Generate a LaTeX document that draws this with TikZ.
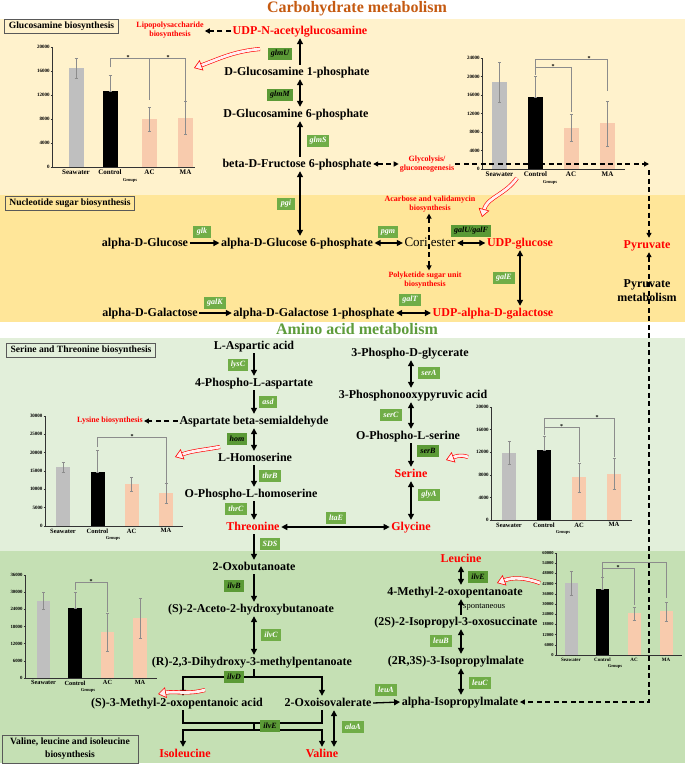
\documentclass[tikz,border=0pt]{standalone}
\usepackage{fontspec}
\setmainfont{Liberation Serif}
\usetikzlibrary{arrows.meta}
\definecolor{bgA}{HTML}{FFF2CC}
\definecolor{bgB}{HTML}{FFE699}
\definecolor{bgC}{HTML}{E2EFDA}
\definecolor{bgD}{HTML}{C5E0B4}
\definecolor{enzL}{HTML}{70AD47}
\definecolor{enzD}{HTML}{5B9A36}
\definecolor{titleO}{HTML}{C55A11}
\definecolor{titleG}{HTML}{5E9C3C}
\definecolor{barG}{HTML}{BFBFBF}
\definecolor{barP}{HTML}{F8CBAD}
\definecolor{redT}{HTML}{FF0000}
\definecolor{pinkF}{HTML}{FFF0F0}
\tikzset{
 met/.style={font=\bfseries\fontsize{12}{14}\selectfont, inner sep=1.5pt, text height=8.5pt, text depth=2.5pt},
 prod/.style={met, text=redT},
 side/.style={font=\bfseries\fontsize{8}{9.5}\selectfont, text=redT, align=center, inner sep=1pt},
 enzl/.style={fill=enzL, text=white, font=\bfseries\itshape\fontsize{8}{9}\selectfont, minimum width=18pt, minimum height=12.5pt, inner xsep=3pt, inner ysep=1pt},
 enzd/.style={enzl, fill=enzD, text=black},
 arr/.style={line width=1.3pt, -{Triangle[length=6pt,width=6pt]}},
 darr/.style={line width=1.3pt, {Triangle[length=6pt,width=6pt]}-{Triangle[length=6pt,width=6pt]}},
 ln/.style={line width=1.3pt},
 dsh/.style={line width=1.3pt, dash pattern=on 5pt off 3.5pt},
 dasharr/.style={dsh, -{Triangle[length=5pt,width=5pt]}},
 ddasharr/.style={dsh, {Triangle[length=5pt,width=5pt]}-{Triangle[length=5pt,width=5pt]}},
 hollow/.style={draw=redT, line width=0.6pt, double=pinkF, double distance=2.8pt, -{Triangle[fill=pinkF, length=8pt, width=11pt]}},
 boxlbl/.style={draw=black!65, line width=0.8pt, font=\bfseries\fontsize{9.6}{11}\selectfont, inner xsep=4pt, inner ysep=2pt, minimum height=14pt, align=center},
 errbar/.style={draw=black!45, line width=0.4pt},
 axisln/.style={draw=black!80, line width=0.5pt},
 brk/.style={draw=black!45, line width=0.5pt},
 catlbl/.style={anchor=north, inner sep=0pt, yshift=-2.5pt},
 ticklbl/.style={anchor=east, inner sep=0.8pt},
 grplbl/.style={anchor=north, inner sep=0pt, font=\bfseries\fontsize{4.5}{5}\selectfont},
 starl/.style={anchor=south, inner sep=0pt, font=\bfseries\fontsize{6}{6}\selectfont, yshift=-1.5pt},
}
% #1 data, #2 axis length, #3 vmax, #4 step, #5 cat font, #6 half width, #7 groups x, #8 tick font
\newcommand\chartbody[8]{%
  \foreach \bx/\bv/\bh/\bl/\bc/\bn in {#1}{%
    \fill[\bc] (\bx-#6,0) rectangle (\bx+#6,\bv);
    \draw[errbar] (\bx,\bl) -- (\bx,\bh) (\bx-1.5,\bh) -- (\bx+1.5,\bh) (\bx-1.5,\bl) -- (\bx+1.5,\bl);
    \node[catlbl, font=\bfseries\fontsize{#5}{#5}\selectfont] (cat-\bn) at (\bx,0) {\bn};
  }
  \draw[axisln] (0,#3) -- (0,0) -- (#2,0);
  \foreach \tk in {0,#4,...,#3}{%
    \draw[axisln] (-1.5,\tk) -- (0,\tk);
    \node[ticklbl, font=\bfseries\fontsize{#8}{#8}\selectfont] (tk\tk) at (-1.5,\tk) {\ifnum\tk=0 0\else\tk000\fi};
  }
  \node[grplbl, yshift=-#5pt-4pt] (grp) at (#7,0) {Groups};
}
\begin{document}
\begin{tikzpicture}[x=1pt,y=-1pt]
\useasboundingbox (0,0) rectangle (685,766);
% backgrounds
\fill[bgA] (0,19) rectangle (685,195);
\fill[bgB] (0,195) rectangle (685,322);
\fill[bgC] (0,338) rectangle (685,551);
\fill[bgD] (0,551) rectangle (685,763);
% titles
\node[font=\bfseries\fontsize{16}{18}\selectfont, text=titleO] (t1) at (357,9) {Carbohydrate metabolism};
\node[font=\bfseries\fontsize{16}{18}\selectfont, text=titleG] (t2) at (357,329) {Amino acid metabolism};
% section boxes
\node[boxlbl, fill=bgA] (bx1) at (61.5,26) {Glucosamine biosynthesis};
\node[boxlbl, fill=bgB] (bx2) at (70,203) {Nucleotide sugar biosynthesis};
\node[boxlbl, fill=bgC] (bx3) at (81,350) {Serine and Threonine biosynthesis};
\node[boxlbl, fill=bgD, minimum width=136pt, minimum height=28pt, font=\bfseries\fontsize{9.6}{13}\selectfont] (bx4) at (70,749) {Valine, leucine and isoleucine\\biosynthesis};

% charts
\begin{scope}[shift={(52pt,-167pt)}, y={(0pt,6pt)}]
\chartbody{24/16.5/18.1/14.8/barG/Seawater, 58/12.6/15.3/12.6/black/Control, 97.5/8/10/5.9/barP/AC, 133.5/8.2/10.9/5.4/barP/MA}{143}{20}{4}{7}{7.5}{78}{5}
\draw[brk] (58,16.6) -- (58,18.15) -- (133.5,18.15) -- (133.5,9.5);
\draw[brk] (97.5,18.15) -- (97.5,11.1);
\node[starl] (s1a) at (76,18.15) {*};
\node[starl] (s1b) at (116,18.15) {*};
\end{scope}
\begin{scope}[shift={(482pt,-169pt)}, y={(0pt,4.625pt)}]
\chartbody{17.5/18.8/23.2/14.5/barG/Seawater, 53.5/15.6/20.1/15.6/black/Control, 89/8.9/11.9/6.0/barP/AC, 125.5/10.0/14.7/5.0/barP/MA}{143}{24}{4}{7}{7.5}{68}{5}
\draw[brk] (53.5,20.3) -- (53.5,23.8) -- (125.5,23.8) -- (125.5,16.9);
\draw[brk] (53.5,22.05) -- (89,22.05) -- (89,12.3);
\node[starl] (s2a) at (71,22.05) {*};
\node[starl] (s2b) at (107,23.8) {*};
\end{scope}
\begin{scope}[shift={(45pt,-526pt)}, y={(0pt,3.667pt)}]
\chartbody{18/16.1/17.4/14.7/barG/Seawater, 52.5/14.7/20.7/14.7/black/Control, 86.5/11.5/13.4/9.5/barP/AC, 121/9.0/11.7/6.3/barP/MA}{138}{30}{5}{6.5}{7}{68}{5}
\draw[brk] (52.5,21.5) -- (52.5,24.3) -- (121,24.3) -- (121,11.8);
\node[starl] (s3a) at (87,24.3) {*};
\end{scope}
\begin{scope}[shift={(491pt,-520pt)}, y={(0pt,5.65pt)}]
\chartbody{18/11.9/14.0/9.9/barG/Seawater, 53/12.4/14.9/12.4/black/Control, 88/7.6/10.1/5.0/barP/AC, 123/8.1/11.0/5.5/barP/MA}{141}{20}{4}{6.5}{7}{72}{5}
\draw[brk] (53,15.0) -- (53,18.05) -- (123,18.05) -- (123,11.2);
\draw[brk] (53,16.5) -- (88,16.5) -- (88,10.3);
\node[starl] (s4a) at (70.5,16.5) {*};
\node[starl] (s4b) at (106,18.05) {*};
\end{scope}
\begin{scope}[shift={(25pt,-678pt)}, y={(0pt,2.861pt)}]
\chartbody{18.5/26.9/30.0/24.1/barG/Seawater, 50/24.5/30.1/24.5/black/Control, 82.5/16.1/22.7/9.4/barP/AC, 115/21.0/28.0/14.0/barP/MA}{132}{36}{6}{6.3}{6.7}{63}{4.8}
\draw[brk] (50,30.8) -- (50,33.6) -- (82.5,33.6) -- (82.5,23.1);
\node[starl] (s5a) at (66,33.6) {*};
\end{scope}
\begin{scope}[shift={(556pt,-655pt)}, y={(0pt,1.7pt)}]
\chartbody{15/42.4/49.4/35.3/barG/Seawater, 46.5/38.8/45.9/38.8/black/Control, 78/24.7/28.2/20.6/barP/AC, 110/25.9/31.2/20.0/barP/MA}{126}{60}{6}{5}{6.5}{59}{4.5}
\draw[brk] (46.5,46) -- (46.5,54.7) -- (110,54.7) -- (110,33.5);
\draw[brk] (46.5,51.2) -- (78,51.2) -- (78,29.4);
\node[starl] (s6a) at (62,51.2) {*};
\end{scope}

% ---------- carbohydrate metabolites
\node[prod] (udpglcnac) at (300,31) {UDP-N-acetylglucosamine};
\node[side] (lipo) at (170,30) {Lipopolysaccharide\\biosynthesis};
\node[met] (glcn1p) at (297,72) {D-Glucosamine 1-phosphate};
\node[met] (glcn6p) at (296,114) {D-Glucosamine 6-phosphate};
\node[met] (fru6p) at (297,164) {beta-D-Fructose 6-phosphate};
\node[side] (glyc) at (427,164) {Glycolysis/\\gluconeogenesis};
\node[met] (aglc) at (145,243) {alpha-D-Glucose};
\node[met] (glc6p) at (297,243) {alpha-D-Glucose 6-phosphate};
\node[met, font=\fontsize{13}{15}\selectfont] (cori) at (430,243) {Cori ester};
\node[prod] (udpglc) at (520,243) {UDP-glucose};
\node[side] (acarb) at (430,204) {Acarbose and validamycin\\biosynthesis};
\node[side] (polyk) at (425,280) {Polyketide sugar unit\\biosynthesis};
\node[prod] (pyr) at (647,245) {Pyruvate};
\node[font=\bfseries\fontsize{12}{14}\selectfont, align=center, inner sep=1pt] (pyrmet) at (647,291) {Pyruvate\\metabolism};
\node[met] (agal) at (150,313) {alpha-D-Galactose};
\node[met] (agalp) at (314,313) {alpha-D-Galactose 1-phosphate};
\node[prod] (udpgal) at (493,313) {UDP-alpha-D-galactose};

% ---------- amino acid metabolites
\node[met] (asp) at (254,346) {L-Aspartic acid};
\node[met] (p4asp) at (254,383) {4-Phospho-L-aspartate};
\node[met] (asasa) at (254,421) {Aspartate beta-semialdehyde};
\node[side] (lys) at (110,421) {Lysine biosynthesis};
\node[met] (hser) at (255,458) {L-Homoserine};
\node[met] (ophser) at (251,494) {O-Phospho-L-homoserine};
\node[prod] (thr) at (253,527) {Threonine};
\node[prod] (gly) at (411,527) {Glycine};
\node[met] (oxob) at (254,567) {2-Oxobutanoate};
\node[met] (pgly) at (410,353) {3-Phospho-D-glycerate};
\node[met] (php) at (413,395) {3-Phosphonooxypyruvic acid};
\node[met] (pser) at (408,436) {O-Phospho-L-serine};
\node[prod] (ser) at (411,474) {Serine};
\node[met] (aceto) at (251,609) {(S)-2-Aceto-2-hydroxybutanoate};
\node[met] (dhmp) at (252,662) {(R)-2,3-Dihydroxy-3-methylpentanoate};
\node[met] (kmv) at (177,703) {(S)-3-Methyl-2-oxopentanoic acid};
\node[met] (kiv) at (328,703) {2-Oxoisovalerate};
\node[met] (aipm) at (460,702) {alpha-Isopropylmalate};
\node[prod] (ile) at (185,754) {Isoleucine};
\node[prod] (val) at (322,754) {Valine};
\node[prod] (leu) at (461,559) {Leucine};
\node[met] (kic) at (455,592) {4-Methyl-2-oxopentanoate};
\node[anchor=west, inner sep=0pt, font=\fontsize{8.5}{9}\selectfont] (spont) at (463,607) {spontaneous};
\node[met] (ipos) at (456,622) {(2S)-2-Isopropyl-3-oxosuccinate};
\node[met] (ipm) at (456,661) {(2R,3S)-3-Isopropylmalate};

% ---------- connectors (carbohydrate)
\coordinate (xA) at (300,0);
\draw[arr] (glcn1p.north -| xA) -- (udpglcnac.south -| xA);
\draw[darr] (glcn1p.south -| xA) -- (glcn6p.north -| xA);
\draw[arr] (fru6p.north -| xA) -- (glcn6p.south -| xA);
\draw[darr] (fru6p.south -| xA) -- (glc6p.north -| xA);
\draw[dasharr] (udpglcnac.west) -- (lipo.east |- udpglcnac.west);
\draw[ddasharr] (fru6p.east) -- (glyc.west |- fru6p.east);
\coordinate (cTR) at (649,164);
\draw[dasharr] (glyc.east |- fru6p.east) -- (cTR);
\draw[dasharr] ([yshift=-6pt]cTR) -- (pyr.north -| cTR);
\coordinate (cBR) at (649,702);
\draw[ddasharr] (pyr.south -| cTR) -- (cBR) -- (aipm.east);
\draw[arr] (aglc.east) -- (glc6p.west);
\draw[darr] (glc6p.east) -- (cori.west);
\draw[darr] (cori.east) -- (udpglc.west);
\coordinate (xU) at (520,0);
\draw[darr] (udpglc.south -| xU) -- (udpgal.north -| xU);
\draw[arr] (agal.east) -- (agalp.west);
\draw[darr] (agalp.east) -- (udpgal.west);
\coordinate (xC) at (429,0);
\draw[ddasharr] (acarb.south -| xC) -- (polyk.north -| xC);

% ---------- connectors (amino acids)
\coordinate (xL) at (254,0);
\draw[arr] (asp.south -| xL) -- (p4asp.north -| xL);
\draw[arr] (p4asp.south -| xL) -- (asasa.north -| xL);
\draw[darr] (asasa.south -| xL) -- (hser.north -| xL);
\draw[arr] (hser.south -| xL) -- (ophser.north -| xL);
\draw[arr] (ophser.south -| xL) -- (thr.north -| xL);
\draw[arr] (thr.south -| xL) -- (oxob.north -| xL);
\draw[arr] (oxob.south -| xL) -- (aceto.north -| xL);
\draw[darr] (aceto.south -| xL) -- (dhmp.north -| xL);
\draw[dasharr] (asasa.west) -- (lys.east |- asasa.west);
\draw[darr] (thr.east) -- (gly.west);
\coordinate (xR) at (411,0);
\draw[darr] (pgly.south -| xR) -- (php.north -| xR);
\draw[darr] (php.south -| xR) -- (pser.north -| xR);
\draw[arr] (pser.south -| xR) -- (ser.north -| xR);
\draw[darr] (ser.south -| xR) -- (gly.north -| xR);
\coordinate (bL) at (183,677);
\coordinate (bM) at (254,677);
\coordinate (bR) at (322,677);
\draw[ln] (dhmp.south -| bM) -- (bM);
\draw[darr] (kmv.north -| bL) -- (bL) -- (bR) -- (kiv.north -| bR);
\coordinate (cL) at (183,723);
\coordinate (cM) at (254,723);
\coordinate (cR) at (322,723);
\coordinate (dL) at (183,730);
\coordinate (dM) at (254,730);
\coordinate (dR) at (322,730);
\draw[ln] (kmv.south -| cL) -- (cL) -- (cR) -- (kiv.south -| cR);
\draw[ln] (cM) -- (dM);
\draw[darr] (ile.north -| dL) -- (dL) -- (dR) -- (val.north -| dR);
\draw[arr] (kiv.east) -- (aipm.west);
\coordinate (xAl) at (334,0);
\draw[darr] (kiv.south -| xAl) -- (val.north -| xAl);
\coordinate (xLe) at (461,0);
\draw[darr] (leu.south -| xLe) -- (kic.north -| xLe);
\draw[arr] (ipos.north -| xLe) -- (kic.south -| xLe);
\draw[darr] (ipos.south -| xLe) -- (ipm.north -| xLe);
\draw[darr] (ipm.south -| xLe) -- (aipm.north -| xLe);

% ---------- enzymes
\node[enzd] (glmU) at (280,54) {glmU};
\node[enzd] (glmM) at (280,95) {glmM};
\node[enzl] (glmS) at (318,141) {glmS};
\node[enzl] (pgi) at (286,204) {pgi};
\node[enzl] (glk) at (202,232) {glk};
\node[enzl] (pgm) at (388,232) {pgm};
\node[enzd] (galUF) at (471,231) {galU/galF};
\node[enzl] (galE) at (504,278) {galE};
\node[enzl] (galT) at (410,300) {galT};
\node[enzl] (galK) at (215,303) {galK};
\node[enzl] (lysC) at (238,365) {lysC};
\node[enzl] (asd) at (268,402) {asd};
\node[enzd] (hom) at (237,439) {hom};
\node[enzl] (thrB) at (270,476) {thrB};
\node[enzl] (thrC) at (236,509) {thrC};
\node[enzl] (ltaE) at (336,518) {ltaE};
\node[enzl] (SDS) at (270,544) {SDS};
\node[enzl] (serA) at (429,373) {serA};
\node[enzl] (serC) at (391,415) {serC};
\node[enzd] (serB) at (428,451) {serB};
\node[enzl] (glyA) at (429,495) {glyA};
\node[enzd] (ilvB) at (234,586) {ilvB};
\node[enzl] (ilvC) at (271,635) {ilvC};
\node[enzd] (ilvD) at (234,677) {ilvD};
\node[enzd] (ilvEa) at (270,726) {ilvE};
\node[enzl] (alaA) at (353,727) {alaA};
\node[enzl] (leuA) at (386,690) {leuA};
\node[enzd] (ilvEb) at (478,577) {ilvE};
\node[enzl] (leuB) at (441,641) {leuB};
\node[enzl] (leuC) at (480,683) {leuC};

% ---------- red hollow arrows
\coordinate (h1a) at (260,49); \coordinate (h1b) at (194,68);
\draw[hollow] (h1a) to[out=185,in=20] (h1b);
\coordinate (h2a) at (517,178); \coordinate (h2b) at (482,217);
\draw[hollow] (h2a) to[out=235,in=75] (h2b);
\coordinate (h3a) at (220,447); \coordinate (h3b) at (175,457);
\draw[hollow] (h3a) to[out=190,in=20] (h3b);
\coordinate (h4a) at (468,457); \coordinate (h4b) at (446,460);
\draw[hollow] (h4a) to[out=160,in=20] (h4b);
\coordinate (h5a) at (205,690); \coordinate (h5b) at (158,694);
\draw[hollow] (h5a) to[out=195,in=10] (h5b);
\coordinate (h6a) at (540,583); \coordinate (h6b) at (497,583);
\draw[hollow] (h6a) to[out=160,in=20] (h6b);
\end{tikzpicture}
\end{document}
